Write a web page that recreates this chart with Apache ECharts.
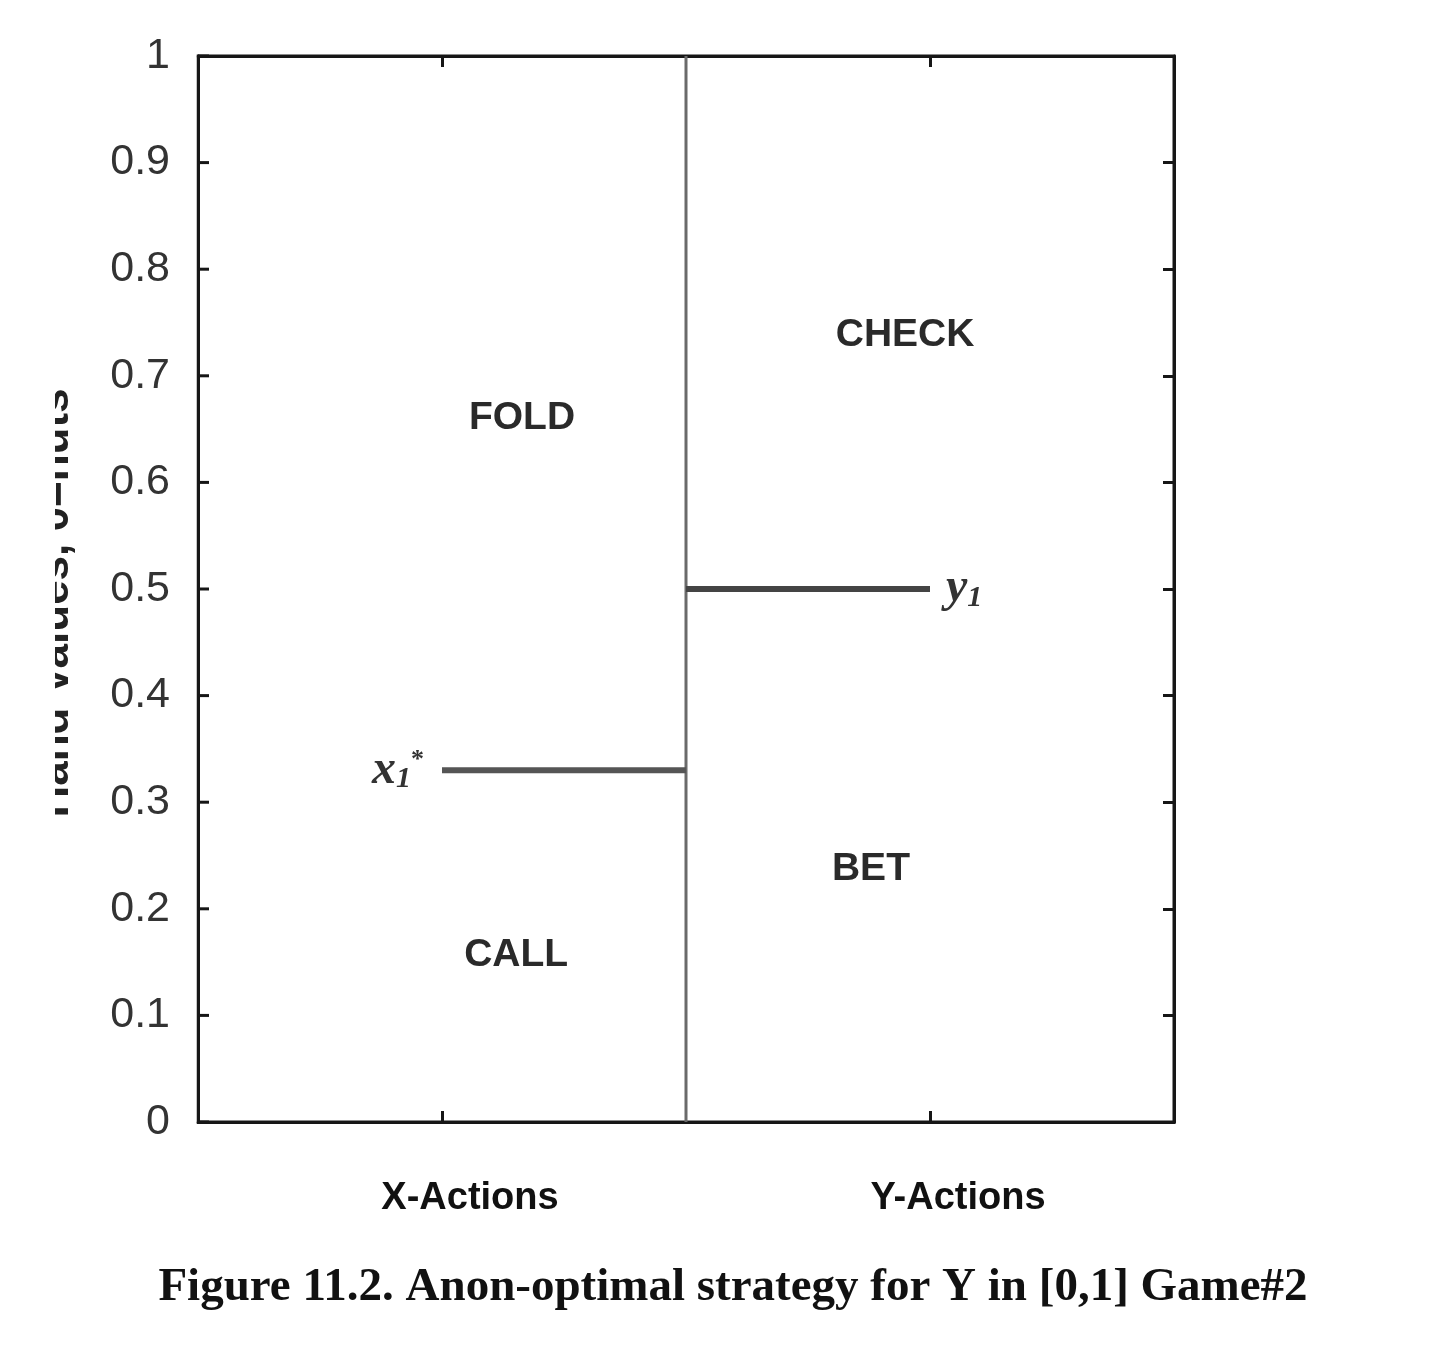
<!DOCTYPE html>
<html>
<head>
<meta charset="utf-8">
<script src="https://cdn.jsdelivr.net/npm/echarts@6/dist/echarts.min.js"></script>
<style>
html,body{margin:0;padding:0;background:#fff;}
#chart{width:1434px;height:1358px;}
</style>
</head>
<body>
<div id="chart"></div>
<script>
// ---- data ----
const yTickValues = [0, 0.1, 0.2, 0.3, 0.4, 0.5, 0.6, 0.7, 0.8, 0.9, 1];
const xCategories = ['X-Actions', 'Y-Actions'];
const xCategoryPos = [0.5, 1.5];
const dividerX = [1, 1];
const dividerY = [0, 1];
const x1StarX = [0.5, 1.0];
const x1StarY = [0.33, 0.33];
const y1X = [1.0, 1.5];
const y1Y = [0.5, 0.5];
const regionNames = ['FOLD', 'CALL', 'CHECK', 'BET'];
const regionX = [0.664, 0.652, 1.449, 1.379];
const regionY = [0.660, 0.156, 0.738, 0.237];
const yAxisTitle = 'Hand Values, 0=nuts';
const figureTitle = 'Figure 11.2. Anon-optimal strategy for Y in [0,1] Game#2';

const pairs = (xs, ys) => xs.map((x, i) => [x, ys[i]]);

const chart = echarts.init(document.getElementById('chart'), null, {renderer: 'canvas'});
const frameColor = '#161616';
const TICK_LEN = 11;
const mkTick = (extra) => Object.assign({show: true, inside: true, length: TICK_LEN, lineStyle: {color: frameColor, width: 3}}, extra || {});
const mkLine = () => ({show: true, onZero: false, lineStyle: {color: frameColor, width: 3}});
const labelStyle = {fontFamily: 'Liberation Sans', fontWeight: 'bold', fontSize: 39, color: '#2a2a2a', opacity: 1};

chart.setOption({
  backgroundColor: '#ffffff',
  animation: false,
  title: {
    text: figureTitle,
    left: 728,
    top: 1259,
    textAlign: 'center',
    textStyle: {fontFamily: 'Liberation Serif', fontWeight: 'bold', fontSize: 47, color: '#111'}
  },
  grid: {left: 198, right: 260, top: 56, bottom: 236, show: true, borderColor: frameColor, borderWidth: 3},
  xAxis: [{
    type: 'value', min: 0, max: 2, position: 'bottom',
    axisLine: mkLine(),
    axisTick: {show: false},
    splitLine: {show: false},
    axisLabel: {
      customValues: xCategoryPos,
      formatter: v => xCategories[xCategoryPos.indexOf(v)] || '',
      margin: 58,
      padding: [0, 0, 0, 56],
      fontFamily: 'Liberation Sans', fontWeight: 'bold', fontSize: 38, color: '#111'
    }
  }, {
    type: 'value', min: 0, max: 2, position: 'top',
    axisLine: mkLine(),
    axisTick: mkTick({customValues: xCategoryPos}),
    axisLabel: {show: false}, splitLine: {show: false}
  }, {
    type: 'value', min: 0, max: 2, position: 'bottom',
    axisLine: mkLine(),
    axisTick: mkTick({customValues: xCategoryPos}),
    axisLabel: {show: false}, splitLine: {show: false}
  }],
  yAxis: [{
    type: 'value', min: 0, max: 1, interval: 0.1, position: 'left',
    axisLine: mkLine(),
    axisTick: {show: false, lineStyle: {width: 0, color: 'rgba(0,0,0,0)'}},
    splitLine: {show: false},
    axisLabel: {
      formatter: v => String(yTickValues.find(t => Math.abs(t - v) < 1e-9)),
      margin: 28,
      fontFamily: 'Liberation Sans', fontSize: 43, color: '#333'
    }
  }, {
    type: 'value', min: 0, max: 1, interval: 0.1, position: 'right',
    axisLine: mkLine(),
    axisTick: mkTick(),
    axisLabel: {show: false}, splitLine: {show: false}
  }],
  series: [
    {type: 'line', data: pairs(dividerX, dividerY), symbol: 'none', lineStyle: {color: '#6a6a6a', width: 3}, z: 3},
    {type: 'line', data: pairs(x1StarX, x1StarY), symbol: 'none', lineStyle: {color: '#555', width: 6}, z: 4},
    {type: 'line', data: pairs(y1X, y1Y), symbol: 'none', lineStyle: {color: '#444', width: 6}, z: 4},
    {
      // inward tick marks on the left frame edge, placed through the y scale
      type: 'custom', clip: false, z: 5, silent: true,
      data: yTickValues.map(v => [0, v]),
      renderItem: (params, api) => {
        const p = api.coord([api.value(0), api.value(1)]);
        return {type: 'line', shape: {x1: p[0], y1: p[1], x2: p[0] + TICK_LEN, y2: p[1]},
          style: {stroke: frameColor, lineWidth: 3}};
      }
    },
    {
      type: 'scatter', symbolSize: 0, itemStyle: {opacity: 1},
      data: regionNames.map((n, i) => ({name: n, value: [regionX[i], regionY[i]]})),
      label: Object.assign({show: true, position: 'inside', formatter: p => p.name}, labelStyle)
    },
    {
      type: 'scatter', symbolSize: 0, itemStyle: {opacity: 1},
      data: [{value: [x1StarX[0], x1StarY[0]]}],
      label: {show: true, position: 'left', distance: 18, opacity: 1,
        formatter: '{v|x}{s|1}{p|*}',
        rich: {
          v: {fontFamily: 'Liberation Serif', fontStyle: 'italic', fontWeight: 'bold', fontSize: 48, color: '#333'},
          s: {fontFamily: 'Liberation Serif', fontStyle: 'italic', fontWeight: 'bold', fontSize: 30, color: '#333', padding: [18, 0, 0, 0]},
          p: {fontFamily: 'Liberation Serif', fontWeight: 'bold', fontSize: 26, color: '#333', padding: [0, 0, 20, 0]}
        }}
    },
    {
      type: 'scatter', symbolSize: 0, itemStyle: {opacity: 1},
      data: [{value: [y1X[1], y1Y[1]]}],
      label: {show: true, position: 'right', distance: 16, opacity: 1,
        formatter: '{v|y}{s|1}',
        rich: {
          v: {fontFamily: 'Liberation Serif', fontStyle: 'italic', fontWeight: 'bold', fontSize: 48, color: '#333'},
          s: {fontFamily: 'Liberation Serif', fontStyle: 'italic', fontWeight: 'bold', fontSize: 30, color: '#333', padding: [18, 0, 0, 0]}
        }}
    }
  ],
  graphic: [
    {type: 'text', x: 78, y: 603, rotation: Math.PI / 2, z: 1,
      style: {text: yAxisTitle, fontFamily: 'Liberation Sans', fontWeight: 'bold', fontSize: 44,
        fill: '#222', align: 'center', verticalAlign: 'bottom'}},
    {type: 'rect', shape: {x: 0, y: 300, width: 55, height: 600}, z: 10,
      style: {fill: '#ffffff'}},
    {type: 'rect', shape: {x: 178, y: 40, width: 18.5, height: 1095}, z: 10,
      style: {fill: '#ffffff'}}
  ]
});
</script>
</body>
</html>
